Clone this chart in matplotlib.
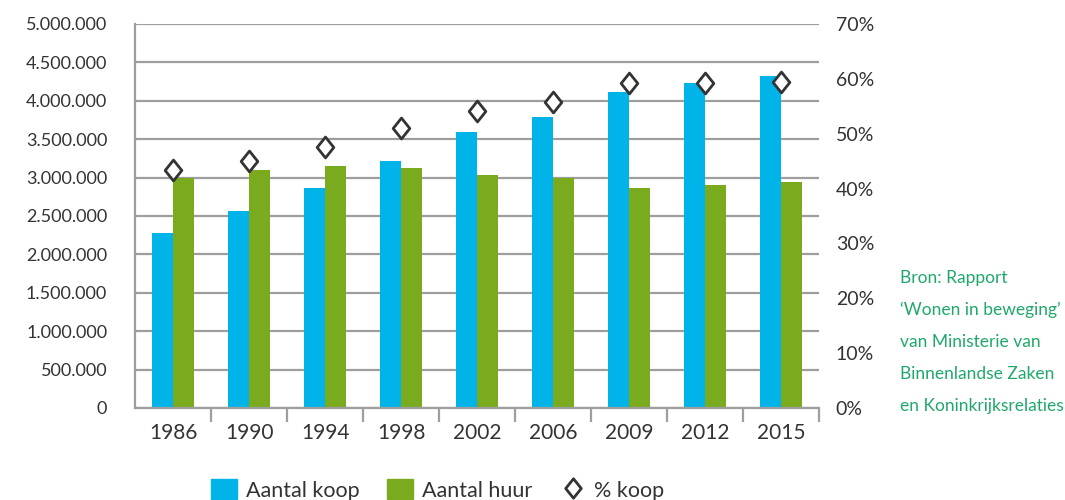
import matplotlib.pyplot as plt
import numpy as np
from matplotlib.path import Path
from matplotlib.patches import Patch
from matplotlib.lines import Line2D
from matplotlib.ticker import FuncFormatter

JAREN = ["1986", "1990", "1994", "1998", "2002", "2006", "2009", "2012", "2015"]
KOOP = [2285000, 2570000, 2870000, 3220000, 3590000, 3790000, 4110000, 4230000, 4320000]
HUUR = [2990000, 3105000, 3155000, 3125000, 3040000, 2990000, 2870000, 2900000, 2940000]
PCT_KOOP = [43.3, 45.1, 47.5, 51.0, 54.1, 55.7, 59.2, 59.2, 59.4]

BLAUW = "#00b4ea"
GROEN = "#7aab1e"
GRIJS = "#9e9e9e"
TEKST = "#333333"
BRON = "#20a86a"

plt.rcParams["font.family"] = ["Lato", "DejaVu Sans"]

ruit = Path([(0, 1), (0.8, 0), (0, -1), (-0.8, 0), (0, 1)],
            [Path.MOVETO, Path.LINETO, Path.LINETO, Path.LINETO, Path.CLOSEPOLY])

fig = plt.figure(figsize=(10.65, 5), dpi=100)
ax = fig.add_axes([0.1268, 0.184, 0.6422, 0.768])
x = np.arange(len(JAREN))
bw = 0.28
ax.bar(x - bw / 2, KOOP, bw, color=BLAUW, zorder=2)
ax.bar(x + bw / 2, HUUR, bw, color=GROEN, zorder=2)

ax.set_xlim(-0.5, len(JAREN) - 0.5)
ax.set_ylim(0, 5000000)
ax.set_yticks(np.arange(0, 5000001, 500000))
ax.yaxis.set_major_formatter(FuncFormatter(lambda v, _: f"{int(v):,}".replace(",", ".")))
ax.grid(axis="y", color=GRIJS, lw=1.6, zorder=0)
ax.tick_params(axis="y", length=0, pad=20, labelsize=13, labelcolor=TEKST)

ax.set_xticks(x)
ax.set_xticklabels(JAREN)
ax.tick_params(axis="x", which="major", length=0, pad=11, labelsize=15, labelcolor=TEKST)
ax.set_xticks(np.arange(0.5, len(JAREN), 1), minor=True)
ax.tick_params(axis="x", which="minor", length=10, width=1.6, color=GRIJS)

for s in ["top", "right"]:
    ax.spines[s].set_visible(False)
for s in ["left", "bottom"]:
    ax.spines[s].set_color(GRIJS)
    ax.spines[s].set_linewidth(1.6)

ax2 = ax.twinx()
ax2.plot(x, PCT_KOOP, ls="none", marker=ruit, ms=15, mfc="white", mec="#333333", mew=2, zorder=5)
ax2.set_ylim(0, 70)
ax2.set_yticks(np.arange(0, 71, 10))
ax2.yaxis.set_major_formatter(FuncFormatter(lambda v, _: f"{int(v)}%"))
ax2.tick_params(axis="y", length=0, pad=12, labelsize=14, labelcolor=TEKST)
for s in ["top", "right", "left", "bottom"]:
    ax2.spines[s].set_visible(False)

handles = [Patch(color=BLAUW), Patch(color=GROEN),
           Line2D([], [], ls="none", marker=ruit, ms=14, mfc="white", mec="#333333", mew=2)]
fig.legend(handles, ["Aantal koop", "Aantal huur", "% koop"], loc="center left",
           bbox_to_anchor=(0.180, 0.02), ncol=3, frameon=False, fontsize=15.5,
           handlelength=1.2, handleheight=1.0, handletextpad=0.4, columnspacing=1.3,
           labelcolor=TEKST)

bron = ["Bron: Rapport", "\u2018Wonen in beweging\u2019", "van Ministerie van",
        "Binnenlandse Zaken", "en Koninkrijksrelaties"]
for i, regel in enumerate(bron):
    fig.text(0.845, 1 - (278 + 32 * i) / 500, regel, color=BRON, fontsize=12.5,
             va="center", ha="left")

fig.savefig("out.png", dpi=100)
